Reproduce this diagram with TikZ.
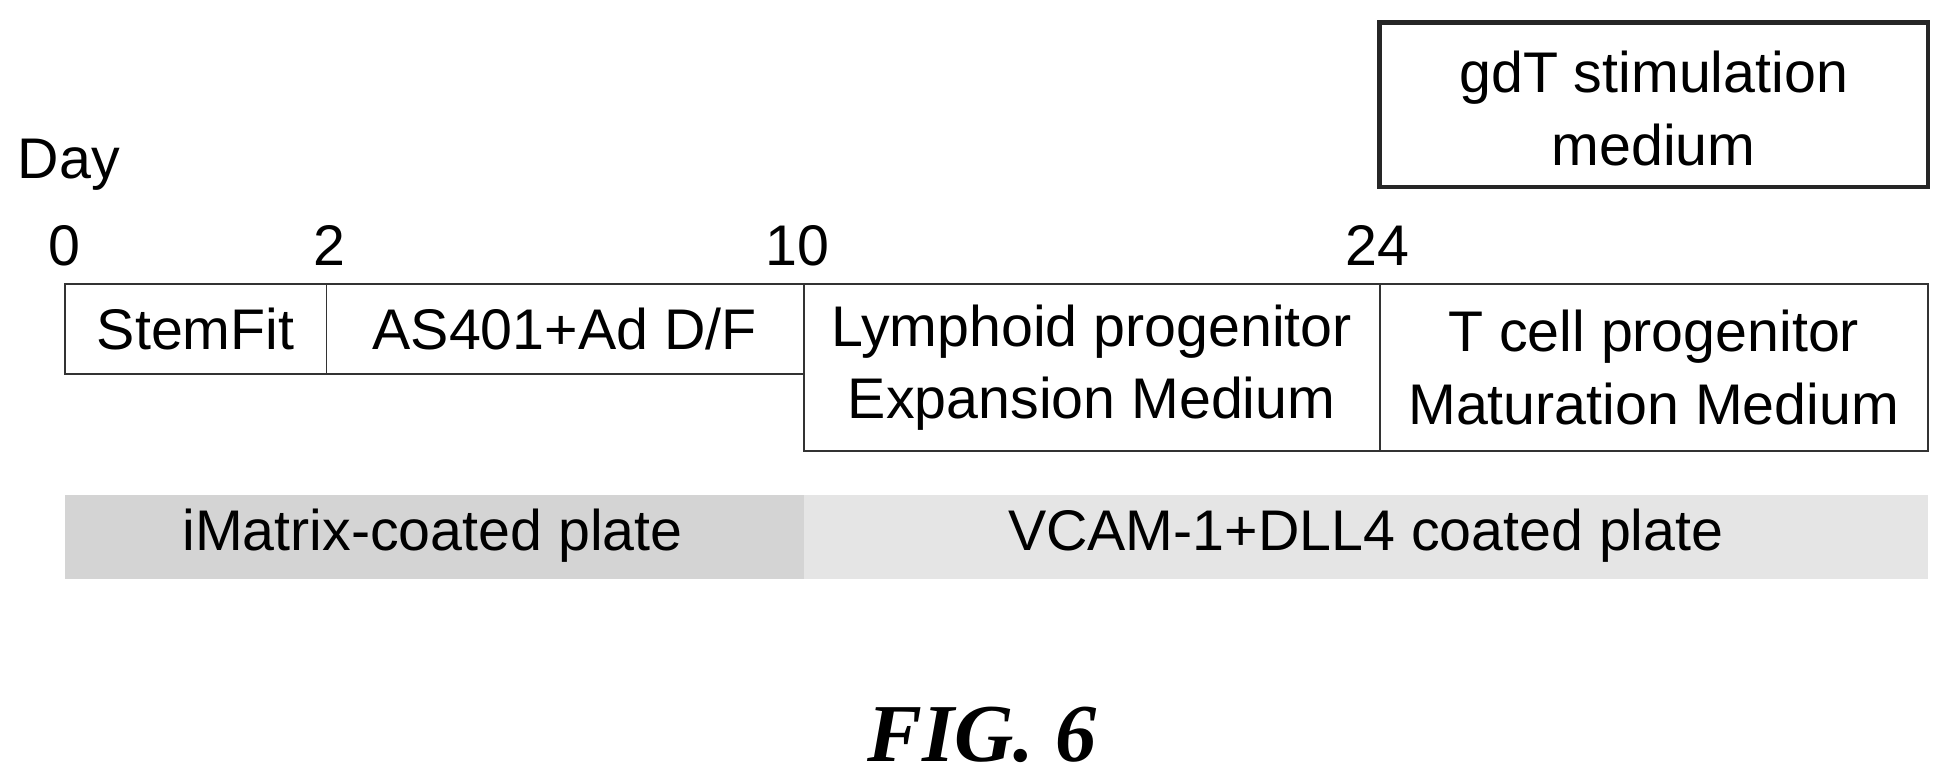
\documentclass[tikz,border=0pt]{standalone}
\usepackage{fontspec}
\setmainfont{Liberation Sans}
\newfontfamily\figfont{Liberation Serif}
\begin{document}
\begin{tikzpicture}[x=0.5pt,y=-0.5pt,
  box/.style={draw=black!80,line width=0.8pt},
  lbl/.style={font=\fontsize{23}{29}\selectfont,align=center,inner sep=0pt}]
\useasboundingbox (0,0) rectangle (1568,627);
\fill[black!17] (52,397) rectangle (645,465);
\fill[black!10] (645,397) rectangle (1547,465);
\draw[box] (52,228) rectangle (262,300);
\draw[box] (262,228) rectangle (645,300);
\draw[box] (645,228) rectangle (1107,362);
\draw[box] (1107,228) rectangle (1547,362);
\draw[draw=black!85,line width=1.8pt] (1107,18) rectangle (1547,150);
\node[lbl] (sf) at (157,264) {StemFit};
\node[lbl] (as) at (453,264) {AS401+Ad D/F};
\node[lbl] (ly) at (876,295) {Lymphoid progenitor\\Expansion Medium};
\node[lbl] (tc) at (1327,295) {T cell progenitor\\Maturation Medium};
\node[lbl] (gd) at (1327,87) {gdT stimulation\\medium};
\node[lbl,anchor=west] (day) at (14,132) {Day};
\node[lbl] (d0) at (52,197) {0};
\node[lbl] (d2) at (264,197) {2};
\node[lbl] (d10) at (640,197) {10};
\node[lbl] (d24) at (1105,197) {24};
\node[lbl] (im) at (347,430) {iMatrix-coated plate};
\node[lbl] (vc) at (1096,430) {VCAM-1+DLL4 coated plate};
\node[inner sep=0pt,font=\figfont\bfseries\itshape\fontsize{33}{36}\selectfont] (fig) at (788,590) {FIG. 6};
\end{tikzpicture}
\end{document}
